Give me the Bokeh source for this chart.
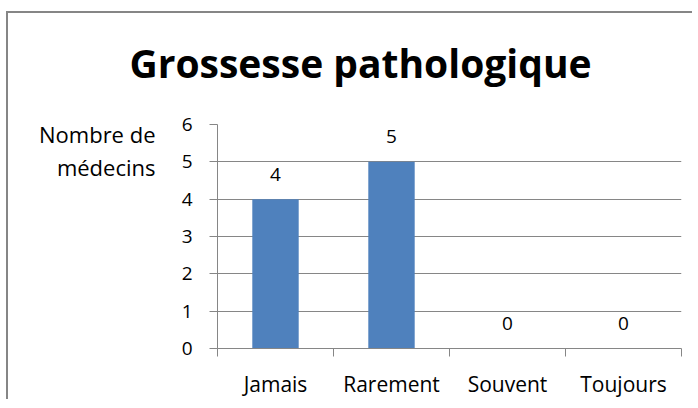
from bokeh.plotting import figure
from bokeh.models import FixedTicker, Range1d, LinearAxis, ColumnDataSource
from bokeh.core.properties import value
from bokeh.embed import file_html
from bokeh.resources import INLINE

categories = ["Jamais", "Rarement", "Souvent", "Toujours"]
counts = [4, 5, 0, 0]
title_text = "Grossesse pathologique"
y_title_lines = ["Nombre de", "médecins"]
y_ticks = [0, 1, 2, 3, 4, 5, 6]

FONT = "Open Sans"
GRAY = "#868686"
BAR = "#4F81BD"

x_pos = [i + 0.5 for i in range(len(categories))]
src = ColumnDataSource(dict(x=x_pos, top=counts, label=[str(c) for c in counts]))

p = figure(width=686, height=388, output_backend="svg", toolbar_location=None,
           x_range=Range1d(0, len(categories)), y_range=Range1d(0, 6),
           min_border_left=209, min_border_right=13, min_border_top=111, min_border_bottom=53,
           styles={"margin-left": "8px", "margin-top": "13px",
                   "box-shadow": "-2px -2px 0px 0px #868686"})
p.outline_line_color = None
p.background_fill_color = "white"
p.border_fill_color = "white"

p.vbar(x="x", top="top", bottom=0, width=0.4, source=src, fill_color=BAR, line_color=None)
p.text(x="x", y="top", text="label", source=src, text_align="center", text_baseline="alphabetic",
       y_offset=-25, text_font=value(FONT), text_font_size="19px", text_color="black")

# x axis: labels at centres, tick marks at category boundaries
p.xaxis.ticker = FixedTicker(ticks=x_pos, minor_ticks=list(range(len(categories) + 1)))
p.xaxis.major_label_overrides = {x: c for x, c in zip(x_pos, categories)}
p.xaxis.major_tick_out = 0
p.xaxis.major_tick_in = 0
p.xaxis.minor_tick_out = 8
p.xaxis.minor_tick_in = 0
p.xaxis.minor_tick_line_color = GRAY
p.xaxis.axis_line_color = GRAY
p.xaxis.major_label_standoff = 13
p.xaxis.major_label_text_font = FONT
p.xaxis.major_label_text_font_size = "21px"
p.xaxis.major_label_text_color = "black"

p.yaxis.ticker = FixedTicker(ticks=y_ticks)
p.yaxis.major_tick_out = 8
p.yaxis.major_tick_in = 0
p.yaxis.minor_tick_line_color = None
p.yaxis.major_tick_line_color = GRAY
p.yaxis.axis_line_color = GRAY
p.yaxis.major_label_standoff = 17
p.yaxis.major_label_text_font = FONT
p.yaxis.major_label_text_font_size = "19px"
p.yaxis.major_label_text_color = "black"

p.xgrid.grid_line_color = None
p.ygrid.ticker = FixedTicker(ticks=y_ticks)
p.ygrid.grid_line_color = GRAY
p.ygrid.grid_line_width = 1

# chart title, as a label-only axis above the frame
title_x = 1.233
tax = LinearAxis(ticker=FixedTicker(ticks=[title_x]), major_label_overrides={title_x: title_text},
                 axis_line_color=None, major_tick_line_color=None, minor_tick_line_color=None,
                 major_tick_out=0, major_tick_in=0, major_label_standoff=36,
                 major_label_text_font=FONT, major_label_text_font_size="39px",
                 major_label_text_font_style="bold", major_label_text_color="black")
p.add_layout(tax, "above")

# horizontal y title on two lines, drawn as an extra label-only axis
title_pos = [5.74, 4.85]
ax2 = LinearAxis(ticker=FixedTicker(ticks=title_pos),
                 major_label_overrides={t: s for t, s in zip(title_pos, y_title_lines)},
                 axis_line_color=None, major_tick_line_color=None, minor_tick_line_color=None,
                 major_tick_out=0, major_tick_in=0, major_label_standoff=23,
                 major_label_text_font=FONT, major_label_text_font_size="22px",
                 major_label_text_color="black")
p.add_layout(ax2, "left")

open("out.html", "w").write(file_html(p, INLINE))
